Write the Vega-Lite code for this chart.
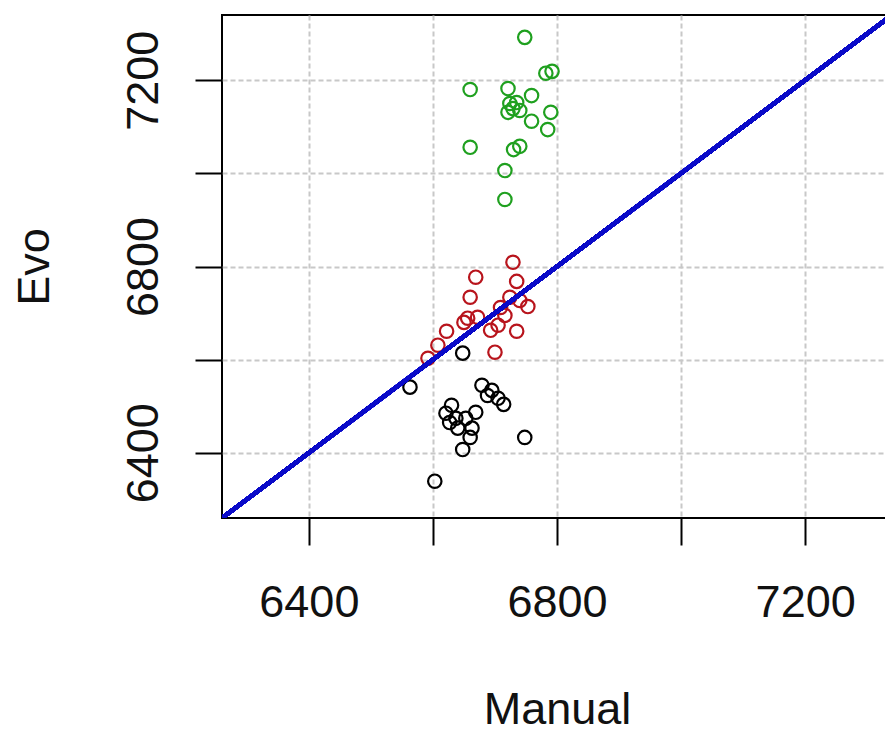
{
  "$schema": "https://vega.github.io/schema/vega-lite/v6.json",
  "width": 670,
  "height": 503,
  "autosize": {"type": "none"},
  "padding": {"left": 222, "top": 15, "right": 0, "bottom": 216},
  "background": "white",
  "config": {
    "font": "Liberation Sans",
    "view": {"stroke": "#000", "strokeWidth": 2},
    "axis": {
      "domain": false,
      "tickColor": "#000",
      "tickWidth": 2,
      "tickSize": 27,
      "labelFont": "Liberation Sans",
      "labelFontSize": 45,
      "labelColor": "#111",
      "labelOverlap": false,
      "labelFlush": false,
      "titleFont": "Liberation Sans",
      "titleFontSize": 45,
      "titleFontWeight": "normal",
      "titleColor": "#111",
      "grid": true,
      "gridColor": "#c8c8c8",
      "gridDash": [5, 3],
      "gridWidth": 2
    }
  },
  "data": {
    "values": [
      {"Manual": 6748, "Evo": 7292, "grp": "g"},
      {"Manual": 6782, "Evo": 7215, "grp": "g"},
      {"Manual": 6792, "Evo": 7219, "grp": "g"},
      {"Manual": 6660, "Evo": 7180, "grp": "g"},
      {"Manual": 6721, "Evo": 7182, "grp": "g"},
      {"Manual": 6759, "Evo": 7167, "grp": "g"},
      {"Manual": 6724, "Evo": 7150, "grp": "g"},
      {"Manual": 6735, "Evo": 7152, "grp": "g"},
      {"Manual": 6729, "Evo": 7139, "grp": "g"},
      {"Manual": 6740, "Evo": 7135, "grp": "g"},
      {"Manual": 6721, "Evo": 7131, "grp": "g"},
      {"Manual": 6790, "Evo": 7131, "grp": "g"},
      {"Manual": 6759, "Evo": 7112, "grp": "g"},
      {"Manual": 6785, "Evo": 7094, "grp": "g"},
      {"Manual": 6660, "Evo": 7056, "grp": "g"},
      {"Manual": 6740, "Evo": 7058, "grp": "g"},
      {"Manual": 6730, "Evo": 7051, "grp": "g"},
      {"Manual": 6716, "Evo": 7006, "grp": "g"},
      {"Manual": 6716, "Evo": 6944, "grp": "g"},
      {"Manual": 6729, "Evo": 6809, "grp": "r"},
      {"Manual": 6669, "Evo": 6777, "grp": "r"},
      {"Manual": 6735, "Evo": 6768, "grp": "r"},
      {"Manual": 6660, "Evo": 6734, "grp": "r"},
      {"Manual": 6724, "Evo": 6734, "grp": "r"},
      {"Manual": 6740, "Evo": 6727, "grp": "r"},
      {"Manual": 6753, "Evo": 6714, "grp": "r"},
      {"Manual": 6709, "Evo": 6712, "grp": "r"},
      {"Manual": 6656, "Evo": 6689, "grp": "r"},
      {"Manual": 6672, "Evo": 6691, "grp": "r"},
      {"Manual": 6622, "Evo": 6661, "grp": "r"},
      {"Manual": 6693, "Evo": 6663, "grp": "r"},
      {"Manual": 6735, "Evo": 6661, "grp": "r"},
      {"Manual": 6700, "Evo": 6616, "grp": "r"},
      {"Manual": 6608, "Evo": 6631, "grp": "r"},
      {"Manual": 6592, "Evo": 6603, "grp": "r"},
      {"Manual": 6650, "Evo": 6680, "grp": "r"},
      {"Manual": 6716, "Evo": 6695, "grp": "r"},
      {"Manual": 6705, "Evo": 6674, "grp": "r"},
      {"Manual": 6648, "Evo": 6614, "grp": "k"},
      {"Manual": 6563, "Evo": 6541, "grp": "k"},
      {"Manual": 6679, "Evo": 6545, "grp": "k"},
      {"Manual": 6695, "Evo": 6534, "grp": "k"},
      {"Manual": 6705, "Evo": 6517, "grp": "k"},
      {"Manual": 6714, "Evo": 6504, "grp": "k"},
      {"Manual": 6630, "Evo": 6502, "grp": "k"},
      {"Manual": 6621, "Evo": 6485, "grp": "k"},
      {"Manual": 6637, "Evo": 6474, "grp": "k"},
      {"Manual": 6669, "Evo": 6487, "grp": "k"},
      {"Manual": 6653, "Evo": 6474, "grp": "k"},
      {"Manual": 6663, "Evo": 6453, "grp": "k"},
      {"Manual": 6640, "Evo": 6453, "grp": "k"},
      {"Manual": 6660, "Evo": 6433, "grp": "k"},
      {"Manual": 6648, "Evo": 6407, "grp": "k"},
      {"Manual": 6748, "Evo": 6433, "grp": "k"},
      {"Manual": 6603, "Evo": 6339, "grp": "k"},
      {"Manual": 6627, "Evo": 6465, "grp": "k"},
      {"Manual": 6688, "Evo": 6523, "grp": "k"}
    ]
  },
  "layer": [
    {
      "mark": {"type": "point", "shape": "circle", "filled": false, "size": 180, "strokeWidth": 2.2, "opacity": 1},
      "encoding": {
        "x": {
          "field": "Manual", "type": "quantitative",
          "scale": {"domain": [6260, 7340], "nice": false, "zero": false},
          "axis": {
            "title": "Manual",
            "values": [6400, 6600, 6800, 7000, 7200],
            "format": "d",
            "labelExpr": "datum.value % 400 == 0 ? datum.label : ''",
            "labelPadding": 35,
            "titleBaseline": "alphabetic",
            "titleY": 205
          }
        },
        "y": {
          "field": "Evo", "type": "quantitative",
          "scale": {"domain": [6260, 7340], "nice": false, "zero": false},
          "axis": {
            "title": "Evo",
            "values": [6400, 6600, 6800, 7000, 7200],
            "format": "d",
            "labelExpr": "datum.value % 400 == 0 ? datum.label : ''",
            "labelAngle": -90,
            "labelAlign": "center",
            "labelBaseline": "alphabetic",
            "labelPadding": 38,
            "titleAngle": -90,
            "titleBaseline": "alphabetic",
            "titleX": -174
          }
        },
        "color": {
          "field": "grp", "type": "nominal",
          "scale": {"domain": ["k", "r", "g"], "range": ["#000000", "#b8141c", "#1fa01f"]},
          "legend": null
        }
      }
    },
    {
      "mark": {"type": "rule", "color": "#0a0ac8", "strokeWidth": 4, "clip": true},
      "encoding": {
        "x": {"datum": 6260, "type": "quantitative"},
        "y": {"datum": 6260, "type": "quantitative"},
        "x2": {"datum": 7340},
        "y2": {"datum": 7340}
      }
    }
  ]
}
